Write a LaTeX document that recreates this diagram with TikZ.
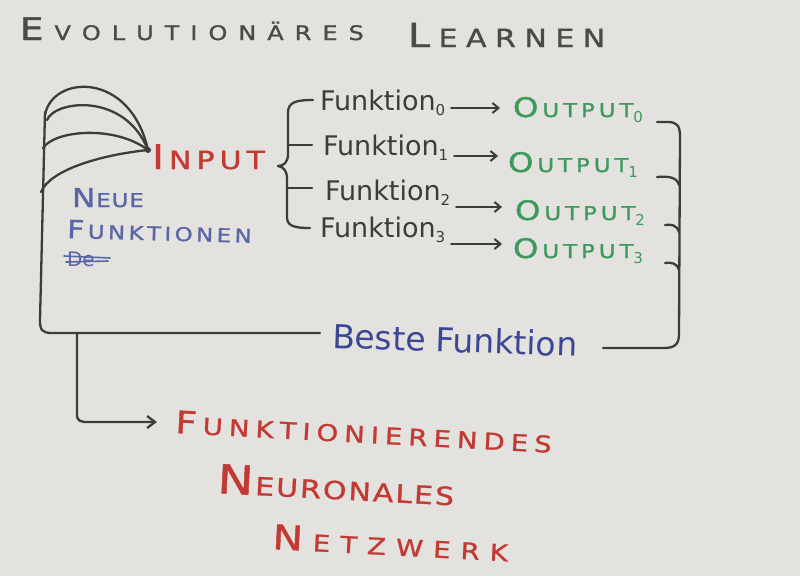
\documentclass[tikz,border=0pt]{standalone}
\usepackage{fontspec}
\setmainfont{DejaVu Sans}
\newfontfamily\capsf[FakeStretch=1.2,FakeBold=1.2]{DejaVu Sans}
\usetikzlibrary{arrows.meta,calc}
\definecolor{paper}{HTML}{E4E2DE}
\definecolor{pencil}{HTML}{3E3C3A}
\definecolor{titlec}{HTML}{4C4A47}
\definecolor{redc}{HTML}{C23A33}
\definecolor{greenc}{HTML}{3C9A5C}
\definecolor{bluec}{HTML}{3B4796}
\definecolor{lblue}{HTML}{5966A6}
\ExplSyntaxOn
\NewDocumentCommand\spc{mm}{\tl_map_inline:nn{#2}{##1\hspace{#1}}\unskip}
\ExplSyntaxOff
\newcommand\capw[5]{{\capsf{\fontsize{#1}{#1}\selectfont #3}\hspace{#5}{\fontsize{#2}{#2}\selectfont\spc{#5}{#4}}}}
\newcommand\sub[2][5]{{\fontsize{15}{15}\selectfont\raisebox{-#1pt}{#2}}}
\begin{document}
\begin{tikzpicture}[x=1pt,y=-1pt,
  pen/.style={draw=pencil, line width=2.3pt, line cap=round, line join=round},
  arr/.style={pen, line width=2pt, -{Straight Barb[length=6pt,width=10pt]}},
  lbl/.style={anchor=base west, inner sep=0pt, outer sep=0pt},
  ttl/.style={lbl, text=titlec},
  funk/.style={lbl, text=pencil, font=\fontsize{27}{27}\selectfont},
  outn/.style={lbl, text=greenc},
  redt/.style={lbl, text=redc, rotate=-3}]
\useasboundingbox (0,0) rectangle (800,576);
\fill[paper] (0,0) rectangle (800,576);

% title
\node[ttl] (t1) at (20,40) {\capw{31}{20}{E}{VOLUTIONÄRES}{11pt}};
\node[ttl] (t2) at (408,47) {\capw{33}{25}{L}{EARNEN}{8.5pt}};

% input
\node[lbl, text=redc] (input) at (152,169) {\capw{34}{25}{I}{NPUT}{5pt}};
\coordinate (join) at (148,150);

% funktionen
\node[funk] (f0) at (320,110) {Funktion\sub{0}};
\node[funk] (f1) at (323,155) {Funktion\sub{1}};
\node[funk] (f2) at (325,200) {Funktion\sub{2}};
\node[funk] (f3) at (320,237) {Funktion\sub{3}};

% outputs
\node[outn] (o0) at (513,117) {\capw{27}{19}{O}{UTPUT}{4pt}\sub{0}};
\node[outn] (o1) at (508,172) {\capw{27}{19}{O}{UTPUT}{4pt}\sub{1}};
\node[outn] (o2) at (515,220) {\capw{27}{19}{O}{UTPUT}{4pt}\sub{2}};
\node[outn] (o3) at (513,258) {\capw{27}{19}{O}{UTPUT}{4pt}\sub{3}};

% arrows
\draw[arr] ($(f0.base east)+(6,-2)$) -- ($(f0.base east -| o0.base west)+(-13,-2)$);
\draw[arr] ($(f1.base east)+(6,1)$) -- ($(f1.base east -| o1.base west)+(-10,1)$);
\draw[arr] ($(f2.base east)+(6,7)$) -- ($(f2.base east -| o2.base west)+(-13,7)$);
\draw[arr] ($(f3.base east)+(6,7)$) -- ($(f3.base east -| o3.base west)+(-11,7)$);

% neue funktionen
\node[lbl, text=lblue] (neue1) at (72,207) {\capw{26}{19}{N}{EUE}{1pt}};
\node[lbl, text=lblue, rotate=-1.5] (neue2) at (67,238) {\capw{25}{19}{F}{UNKTIONEN}{3.5pt}};
\node[lbl, text=lblue, font=\fontsize{20}{20}\selectfont] (dt) at (67,266) {De};
\draw[lblue, line width=1.6pt, line cap=round] (64,256) -- (110,258);
\draw[lblue, line width=1.6pt, line cap=round] (66,262) -- (108,261);

% beste funktion
\node[lbl, text=bluec, font=\fontsize{33}{33}\selectfont, rotate=-2] (beste) at (332,348) {Beste Funktion};
\path (beste.base east) ++(26,0) coordinate (bend);

% final
\node[redt] (fin1) at (175,433) {\capw{31}{23}{F}{UNKTIONIERENDES}{6pt}};
\node[redt] (fin2) at (217,493) {\capw{40}{25}{N}{EURONALES}{2pt}};
\node[redt] (fin3) at (272,549) {\capw{34}{23}{N}{ETZWERK}{10pt}};

% loops into input
\draw[pen] (45,115) .. controls (52,75) and (130,70) .. (join);
\draw[pen] (47,120) .. controls (55,100) and (125,92) .. (join);
\draw[pen] (43,148) .. controls (55,130) and (115,125) .. (join);
\draw[pen] (41,192) .. controls (50,170) and (100,155) .. (join);
\fill[pencil] (join) circle (3);

% brace
\draw[pen] (313,100) .. controls (296,100) and (288,102) .. (288,113) -- (288,154)
  .. controls (288,162) and (284,166) .. (278,166)
  .. controls (284,167) and (287,171) .. (287,179) -- (287,217)
  .. controls (287,225) and (292,228) .. (310,228);
\draw[pen] (288,145) -- (312,145);
\draw[pen] (287,188) -- (312,188);

% right bracket
\draw[pen] (657,122) -- (668,122) .. controls (677,122) and (680,126) .. (680,136)
  -- (679,334) .. controls (679,344) and (675,348) .. (664,348) -- (bend |- 0,348);
\draw[pen] (657,177) .. controls (668,176) and (677,177) .. (679,185);
\draw[pen] (665,225) .. controls (671,224) and (677,225) .. (679,232);
\draw[pen] (665,263) .. controls (671,262) and (677,263) .. (679,270);

% feedback line
\draw[pen] ([xshift=-12pt,yshift=15pt]beste.base west) -- (52,333)
  .. controls (42,333) and (40,330) .. (40,320) -- (45,112);

% to final network
\draw[pen, -{Straight Barb[length=8pt,width=12pt]}] (77,333) -- (77,414)
  .. controls (77,421) and (80,422) .. (88,422) -- ($(fin1.base west)+(-18,-11)$);
\end{tikzpicture}
\end{document}
